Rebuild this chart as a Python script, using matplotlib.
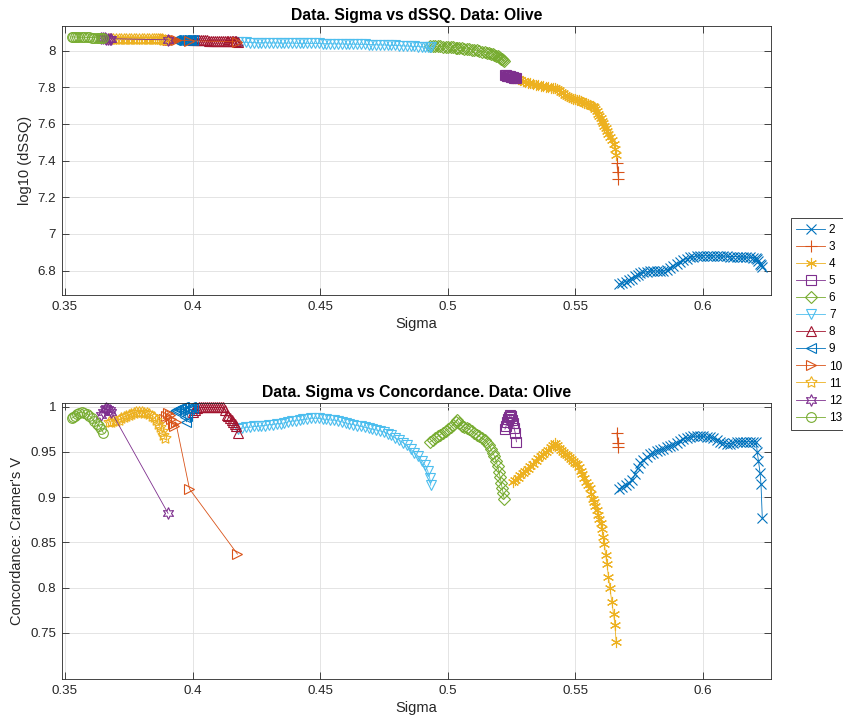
import matplotlib
matplotlib.use('Agg')
import matplotlib.pyplot as plt
from matplotlib.ticker import FuncFormatter

plt.rcParams['font.family'] = ['Liberation Sans', 'DejaVu Sans']

labels = ['2', '3', '4', '5', '6', '7', '8', '9', '10', '11', '12', '13']

# ---- series 2 ----
s2 = [0.5672,0.5685,0.5698,0.5711,0.5724,0.5735,0.5745,0.5755,0.5768,0.5781,
      0.5794,0.5807,0.5820,0.5833,0.5846,0.5859,0.5872,0.5885,0.5898,0.5911,
      0.5924,0.5938,0.5951,0.5964,0.5977,0.5990,0.6003,0.6016,0.6029,0.6042,
      0.6055,0.6068,0.6081,0.6094,0.6107,0.6120,0.6133,0.6146,0.6159,0.6172,
      0.6185,0.6198,0.6210,0.6214,0.6219,0.6225,0.6229,0.6234]
c2 = [0.909,0.911,0.913,0.916,0.919,0.925,0.932,0.938,0.941,0.944,
      0.947,0.949,0.951,0.952,0.953,0.955,0.956,0.958,0.960,0.962,
      0.964,0.965,0.966,0.967,0.967,0.967,0.967,0.966,0.966,0.965,
      0.963,0.961,0.960,0.959,0.959,0.960,0.961,0.961,0.961,0.961,
      0.961,0.961,0.961,0.950,0.940,0.927,0.914,0.877]
d2 = [6.726,6.733,6.740,6.748,6.757,6.768,6.778,6.785,6.790,6.794,
      6.797,6.798,6.797,6.797,6.798,6.805,6.815,6.827,6.838,6.848,
      6.858,6.866,6.872,6.876,6.879,6.880,6.881,6.881,6.881,6.880,
      6.880,6.880,6.879,6.878,6.877,6.877,6.876,6.875,6.874,6.873,
      6.872,6.871,6.870,6.862,6.850,6.838,6.828,6.818]

# ---- series 3 ----
s3 = [0.5664, 0.5667, 0.5670]
c3 = [0.971, 0.960, 0.955]
d3 = [7.385, 7.338, 7.302]

# ---- series 4 ----
s4 = [0.5256,0.5265,0.5275,0.5285,0.5295,0.5305,0.5315,0.5325,0.5335,0.5345,
      0.5355,0.5365,0.5375,0.5385,0.5395,0.5405,0.5413,0.5420,0.5428,0.5436,
      0.5444,0.5452,0.5460,0.5468,0.5476,0.5484,0.5492,0.5500,0.5508,0.5515,
      0.5522,0.5529,0.5536,0.5543,0.5550,0.5557,0.5563,0.5569,0.5575,0.5580,
      0.5585,0.5590,0.5595,0.5600,0.5605,0.5610,0.5615,0.5620,0.5625,0.5631,
      0.5637,0.5644,0.5651,0.5656,0.5661]
c4 = [0.917,0.919,0.921,0.924,0.926,0.929,0.931,0.934,0.937,0.940,
      0.943,0.945,0.947,0.950,0.952,0.955,0.958,0.960,0.957,0.954,
      0.952,0.950,0.948,0.946,0.944,0.942,0.940,0.938,0.936,0.933,
      0.929,0.925,0.921,0.917,0.913,0.910,0.903,0.898,0.894,0.890,
      0.886,0.880,0.876,0.871,0.865,0.856,0.848,0.836,0.826,0.812,
      0.799,0.784,0.771,0.759,0.740]
d4 = [7.853,7.848,7.843,7.838,7.833,7.828,7.824,7.821,7.818,7.815,
      7.812,7.809,7.806,7.803,7.800,7.798,7.796,7.794,7.790,7.784,
      7.777,7.769,7.760,7.752,7.746,7.741,7.738,7.735,7.733,7.730,
      7.726,7.721,7.716,7.712,7.708,7.704,7.700,7.697,7.690,7.680,
      7.668,7.656,7.644,7.632,7.618,7.604,7.590,7.577,7.563,7.547,
      7.530,7.510,7.490,7.465,7.433]

# ---- series 5 ----
s5 = [0.5225,0.5229,0.5233,0.5237,0.5241,0.5245,0.5249,0.5253,0.5257,0.5261,0.5265,0.5270]
c5 = [0.975,0.978,0.983,0.986,0.988,0.991,0.989,0.985,0.982,0.976,0.971,0.961]
d5 = [7.868,7.866,7.864,7.862,7.861,7.860,7.858,7.857,7.855,7.853,7.851,7.849]

# ---- series 6 ----
s6 = [0.4932,0.4942,0.4952,0.4962,0.4972,0.4982,0.4992,0.5002,0.5012,0.5022,
      0.5032,0.5038,0.5045,0.5055,0.5065,0.5075,0.5085,0.5095,0.5105,0.5115,
      0.5125,0.5135,0.5145,0.5155,0.5163,0.5170,0.5177,0.5184,0.5190,0.5196,
      0.5201,0.5206,0.5210,0.5214,0.5218,0.5222]
c6 = [0.961,0.963,0.965,0.967,0.969,0.971,0.973,0.975,0.977,0.980,
      0.983,0.985,0.982,0.979,0.977,0.976,0.975,0.973,0.971,0.969,
      0.967,0.965,0.963,0.960,0.957,0.953,0.949,0.945,0.940,0.934,
      0.928,0.922,0.916,0.910,0.904,0.898]
d6 = [8.026,8.025,8.024,8.024,8.023,8.022,8.021,8.020,8.019,8.018,
      8.016,8.015,8.014,8.013,8.011,8.010,8.008,8.006,8.004,8.001,
      7.998,7.995,7.992,7.989,7.986,7.983,7.980,7.977,7.973,7.969,
      7.965,7.961,7.957,7.953,7.948,7.943]

# ---- series 7 ----
s7 = [0.4178,0.4195,0.4210,0.4225,0.4240,0.4255,0.4270,0.4285,0.4300,0.4315,
      0.4330,0.4345,0.4360,0.4375,0.4390,0.4405,0.4420,0.4435,0.4450,0.4465,
      0.4480,0.4495,0.4510,0.4525,0.4540,0.4555,0.4570,0.4585,0.4600,0.4615,
      0.4630,0.4645,0.4660,0.4675,0.4690,0.4705,0.4720,0.4735,0.4750,0.4765,
      0.4780,0.4795,0.4810,0.4825,0.4840,0.4855,0.4870,0.4885,0.4900,0.4912,
      0.4922,0.4930,0.4934]
c7 = [0.975,0.976,0.977,0.977,0.978,0.978,0.979,0.979,0.980,0.980,
      0.981,0.981,0.982,0.983,0.984,0.984,0.985,0.986,0.986,0.987,
      0.987,0.987,0.986,0.986,0.985,0.985,0.984,0.983,0.982,0.981,
      0.980,0.979,0.978,0.977,0.976,0.975,0.974,0.973,0.972,0.970,
      0.968,0.965,0.963,0.960,0.957,0.953,0.949,0.945,0.940,0.935,
      0.929,0.921,0.913]
d7 = [8.046,8.045,8.045,8.044,8.044,8.043,8.043,8.043,8.042,8.042,
      8.042,8.041,8.041,8.041,8.041,8.040,8.040,8.040,8.040,8.039,
      8.039,8.039,8.038,8.038,8.038,8.037,8.037,8.036,8.036,8.036,
      8.035,8.035,8.034,8.034,8.033,8.033,8.032,8.031,8.031,8.030,
      8.029,8.028,8.027,8.026,8.025,8.024,8.023,8.022,8.021,8.020,
      8.019,8.018,8.018]

# ---- series 8 ----
s8 = [0.4000,0.4008,0.4016,0.4024,0.4032,0.4040,0.4048,0.4056,0.4064,0.4072,
      0.4080,0.4088,0.4096,0.4104,0.4112,0.4120,0.4128,0.4134,0.4140,0.4147,
      0.4154,0.4160,0.4166,0.4172,0.4178]
c8 = [0.994,0.996,0.998,0.999,0.999,0.999,0.999,0.999,0.999,0.999,
      0.999,0.999,0.999,0.999,0.999,0.999,0.996,0.991,0.989,0.987,
      0.985,0.983,0.981,0.979,0.971]
d8 = [8.058,8.058,8.057,8.057,8.057,8.056,8.056,8.056,8.055,8.055,
      8.055,8.054,8.054,8.054,8.053,8.053,8.053,8.052,8.052,8.051,
      8.051,8.051,8.050,8.050,8.049]

# ---- series 9 ----
s9 = [0.3930,0.3937,0.3944,0.3950,0.3956,0.3962,0.3968,0.3972,0.3976,0.3980,0.3985,0.3990,0.3995,0.4000]
c9 = [0.995,0.996,0.997,0.997,0.998,0.999,0.999,0.988,0.983,0.990,0.997,0.999,0.999,0.998]
d9 = [8.060,8.060,8.059,8.059,8.059,8.058,8.058,8.058,8.057,8.057,8.057,8.057,8.056,8.056]

# ---- series 10 ----
s10 = [0.3890,0.3897,0.3903,0.3910,0.3916,0.3922,0.3928,0.3934,0.3988,0.4176]
c10 = [0.986,0.990,0.993,0.991,0.986,0.981,0.978,0.983,0.909,0.837]
d10 = [8.061,8.061,8.060,8.060,8.059,8.059,8.058,8.058,8.054,8.048]

# ---- series 11 ----
s11 = [0.3672,0.3680,0.3690,0.3700,0.3710,0.3720,0.3730,0.3740,0.3750,0.3760,
       0.3770,0.3780,0.3790,0.3800,0.3810,0.3820,0.3830,0.3840,0.3850,0.3858,
       0.3866,0.3873,0.3880,0.3886,0.3892]
c11 = [0.983,0.983,0.984,0.984,0.985,0.987,0.988,0.989,0.991,0.992,
       0.993,0.994,0.994,0.994,0.993,0.993,0.992,0.990,0.988,0.985,
       0.981,0.977,0.973,0.969,0.965]
d11 = [8.066,8.066,8.066,8.065,8.065,8.065,8.065,8.064,8.064,8.064,
       8.064,8.063,8.063,8.063,8.063,8.062,8.062,8.062,8.062,8.061,
       8.061,8.061,8.061,8.060,8.060]

# ---- series 12 ----
s12 = [0.3642,0.3648,0.3655,0.3662,0.3668,0.3675,0.3682,0.3904]
c12 = [0.991,0.994,0.997,0.998,0.997,0.996,0.994,0.882]
d12 = [8.068,8.067,8.067,8.066,8.066,8.065,8.065,8.059]

# ---- series 13 ----
s13 = [0.3526,0.3532,0.3540,0.3548,0.3556,0.3565,0.3575,0.3585,0.3595,0.3605,0.3615,0.3625,0.3635,0.3643,0.3650]
c13 = [0.987,0.988,0.990,0.992,0.993,0.994,0.993,0.992,0.990,0.987,0.984,0.981,0.978,0.975,0.971]
d13 = [8.075,8.075,8.074,8.074,8.074,8.073,8.073,8.072,8.072,8.071,8.071,8.070,8.070,8.069,8.068]

sigmas = [s2, s3, s4, s5, s6, s7, s8, s9, s10, s11, s12, s13]
dssq = [d2, d3, d4, d5, d6, d7, d8, d9, d10, d11, d12, d13]
conc = [c2, c3, c4, c5, c6, c7, c8, c9, c10, c11, c12, c13]

xticks = [0.35, 0.4, 0.45, 0.5, 0.55, 0.6]
yticks_top = [6.8, 7.0, 7.2, 7.4, 7.6, 7.8, 8.0]
yticks_bot = [0.75, 0.8, 0.85, 0.9, 0.95, 1.0]

base = ['#0072BD', '#D95319', '#EDB120', '#7E2F8E', '#77AC30', '#4DBEEE', '#A2142F']
colors = [base[i % 7] for i in range(12)]
markers = ['x', '+', (6, 2, 0), 's', 'D', 'v', '^', '<', '>', (5, 1, 0), (6, 1, 0), 'o']
msizes = [7, 8, 8, 6.5, 6, 7, 7, 7, 7, 8.5, 8.5, 7]

W, H = 843, 721
fig = plt.figure(figsize=(W / 100, H / 100), dpi=100)
ax1 = fig.add_axes([61.7 / W, 1 - 295 / H, 709 / W, 269.3 / H])
ax2 = fig.add_axes([61.7 / W, 1 - 679 / H, 709 / W, 276.3 / H])

handles = []
for i in range(12):
    kw = dict(color=colors[i], marker=markers[i], mfc='none', ms=msizes[i],
              mew=0.8, lw=0.6, clip_on=False)
    ax1.plot(sigmas[i], dssq[i], **kw)
    h, = ax2.plot(sigmas[i], conc[i], **kw)
    handles.append(h)

fmt = FuncFormatter(lambda v, p: '%g' % round(v, 4))
for ax, title, ylab, yt, ylim in [
        (ax1, 'Data. Sigma vs dSSQ. Data: Olive', 'log10 (dSSQ)', yticks_top, (6.667, 8.136)),
        (ax2, 'Data. Sigma vs Concordance. Data: Olive', "Concordance: Cramer's V", yticks_bot, (0.699, 1.0042))]:
    ax.set_xlim(0.3487, 0.6267)
    ax.set_ylim(*ylim)
    ax.set_xticks(xticks)
    ax.set_yticks(yt)
    ax.xaxis.set_major_formatter(fmt)
    ax.yaxis.set_major_formatter(fmt)
    ax.grid(True, color='#dfdfdf', lw=0.6)
    ax.set_axisbelow(True)
    for sp in ax.spines.values():
        sp.set_color('#262626')
        sp.set_linewidth(0.6)
    ax.tick_params(direction='in', top=True, right=True, length=5, width=0.6,
                   colors='#262626', labelsize=9.6, pad=4)
    ax.set_title(title, fontweight='bold', fontsize=11.3, pad=4)
    ax.set_xlabel('Sigma', fontsize=10.5, color='#262626', labelpad=3)
    ax.set_ylabel(ylab, fontsize=10.5, color='#262626')

leg = fig.legend(handles, labels, loc='upper left',
                 bbox_to_anchor=(790.5 / W, 1 - 218 / H), bbox_transform=fig.transFigure,
                 fontsize=8.5, frameon=True, fancybox=False, edgecolor='#262626',
                 framealpha=1, borderaxespad=0, handlelength=2.4, handletextpad=0.35,
                 labelspacing=0.43, borderpad=0.5)
leg.get_frame().set_linewidth(0.6)

fig.savefig('out.png', dpi=100)
